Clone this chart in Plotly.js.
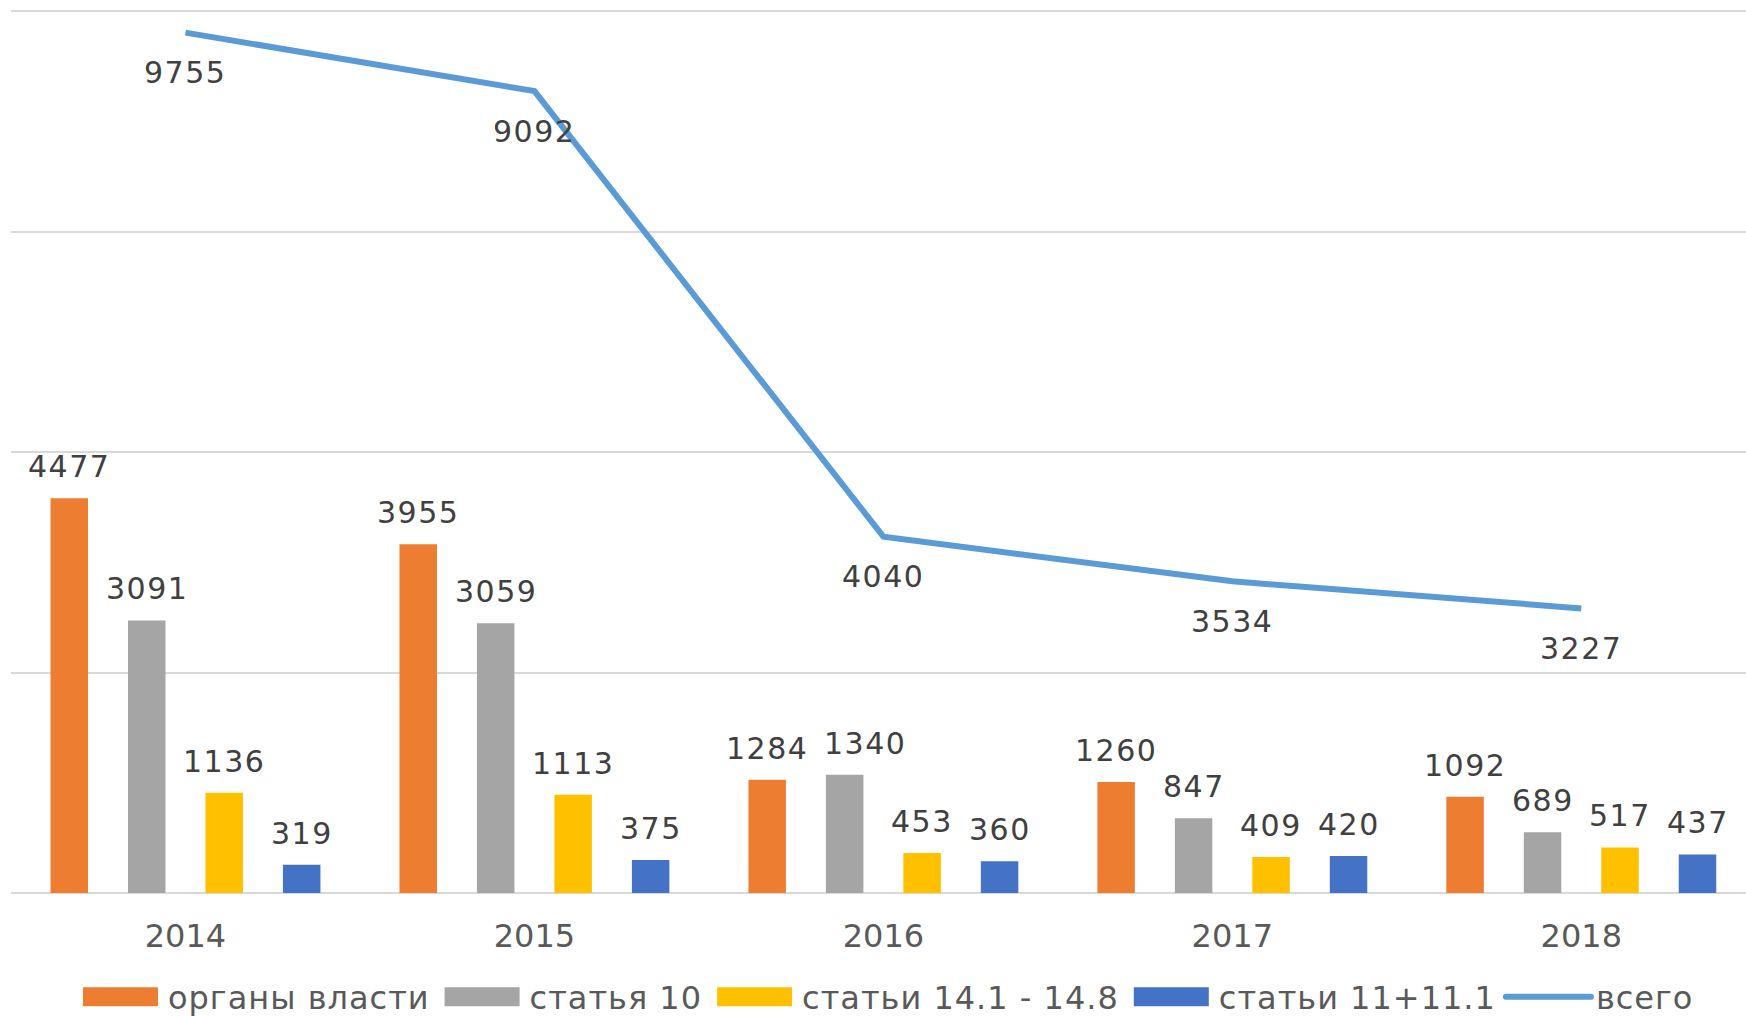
<!DOCTYPE html>
<html>
<head>
<meta charset="utf-8">
<script src="https://cdn.plot.ly/plotly-3.0.1.min.js"></script>
<style>
  html, body { margin: 0; padding: 0; background: #ffffff; }
  #chart { width: 1746px; height: 1016px; overflow: hidden; }
  .annotation-text { letter-spacing: 1.5px; }
  .legendtext { letter-spacing: 1px; }
  .legendlines path { stroke-linecap: round; }
</style>
</head>
<body>
<div id="chart"></div>
<script>
// ---- data ----
const years = ['2014', '2015', '2016', '2017', '2018'];
const organyVlasti = [4477, 3955, 1284, 1260, 1092];
const statya10 = [3091, 3059, 1340, 847, 689];
const stati14 = [1136, 1113, 453, 409, 517];
const stati11 = [319, 375, 360, 420, 437];
const vsego = [9755, 9092, 4040, 3534, 3227];

const seriesNames = ['органы власти', 'статья 10', 'статьи 14.1 - 14.8', 'статьи 11+11.1'];
const barSeries = [organyVlasti, statya10, stati14, stati11];
const barColors = ['#ed7d31', '#a5a5a5', '#ffc000', '#4472c4'];
const lineName = 'всего';
const lineColor = '#5b9bd5';

// ---- styling ----
const FONT = 'DejaVu Sans';
const LABEL_SIZE = 30;
const labelColor = '#404040';
const axisTextColor = '#595959';
const bargap = 0.112;
const bargroupgap = 0.516;
const catPx = 349;           // approx. pixel width of one category
const yRange = [0, 10046];
const plotHpx = 1016 - 7 - 123;

const traces = barSeries.map((vals, i) => ({
  type: 'bar',
  name: seriesNames[i],
  x: years,
  y: vals,
  marker: { color: barColors[i] },
  hoverinfo: 'skip'
}));
traces.push({
  type: 'scatter',
  mode: 'lines',
  name: lineName,
  x: years,
  y: vsego,
  line: { color: lineColor, width: 6 },
  hoverinfo: 'skip'
});

// data labels placed from the data via the axes
const annotations = [];
const n = barSeries.length;
const slot = (1 - bargap) / n;
const textW = s => s.length * (0.636 * LABEL_SIZE + 1.5);
for (let j = 0; j < years.length; j++) {
  let prevRight = -Infinity, prevY = null;
  for (let i = 0; i < n; i++) {
    const v = barSeries[i][j];
    const off = (i - (n - 1) / 2) * slot;
    const cx = (j + off) * catPx;
    const w = textW(String(v));
    let shift = 0;
    // nudge a label right when it would collide with its left neighbour (Excel-like)
    if (prevY !== null && Math.abs(v - prevY) * plotHpx / yRange[1] < LABEL_SIZE &&
        cx - w / 2 < prevRight + 4) {
      shift = prevRight + 16 - (cx - w / 2);
    }
    prevRight = cx + shift + w / 2;
    prevY = v;
    annotations.push({
      x: j + off, y: v, xref: 'x', yref: 'y',
      text: String(v), showarrow: false,
      yanchor: 'bottom', xanchor: 'center', yshift: 12, xshift: shift,
      font: { family: FONT, size: LABEL_SIZE, color: labelColor }
    });
  }
}
vsego.forEach((v, j) => {
  annotations.push({
    x: j, y: v, xref: 'x', yref: 'y',
    text: String(v), showarrow: false,
    yanchor: 'middle', xanchor: 'center', yshift: -40,
    font: { family: FONT, size: LABEL_SIZE, color: labelColor }
  });
});

const layout = {
  width: 1746,
  height: 1016,
  margin: { l: 11, r: 0, t: 7, b: 123, pad: 0 },
  paper_bgcolor: '#ffffff',
  plot_bgcolor: '#ffffff',
  font: { family: FONT, color: axisTextColor },
  barmode: 'group',
  bargap: bargap,
  bargroupgap: bargroupgap,
  showlegend: true,
  legend: {
    orientation: 'h',
    xref: 'container', yref: 'container',
    x: 0.0418, xanchor: 'left',
    y: 0.0187, yanchor: 'middle',
    font: { family: FONT, size: 32, color: axisTextColor },
    itemwidth: 85,
    tracegroupgap: 0,
    traceorder: 'normal',
    bgcolor: 'rgba(0,0,0,0)'
  },
  xaxis: {
    type: 'category',
    range: [-0.5, 4.472],
    showgrid: false,
    zeroline: false,
    showline: false,
    ticks: '',
    ticklabelstandoff: 21,
    tickfont: { family: FONT, size: 32, color: axisTextColor },
    fixedrange: true
  },
  yaxis: {
    range: yRange,
    tickvals: [0, 2500, 5000, 7500, 10000],
    showticklabels: false,
    showgrid: true,
    gridcolor: '#d9d9d9',
    gridwidth: 2,
    zeroline: true,
    zerolinecolor: '#d9d9d9',
    zerolinewidth: 2,
    showline: false,
    fixedrange: true
  },
  annotations: annotations
};

Plotly.newPlot('chart', traces, layout, { displayModeBar: false, staticPlot: true }).then(gd => {
  // widen the legend swatches of the bar series to Excel-like rectangles
  const groups = gd.querySelectorAll('.legend .traces');
  groups.forEach((g, i) => {
    if (i < barSeries.length) {
      g.querySelectorAll('.legendpoints path').forEach(p => {
        p.setAttribute('d', 'M-37.5,9.5H37.5V-9.5H-37.5Z');
      });
    }
  });
});
</script>
</body>
</html>
